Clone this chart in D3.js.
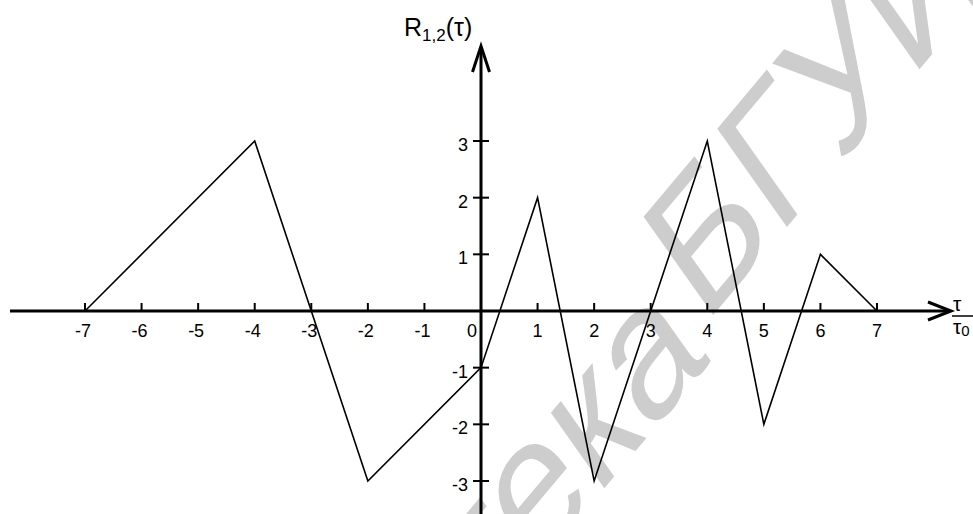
<!DOCTYPE html>
<html>
<head>
<meta charset="utf-8">
<script src="https://cdn.jsdelivr.net/npm/d3@7"></script>
<style>
  body { margin: 0; background: #fff; }
  svg { display: block; font-family: 'Liberation Sans', Arial, sans-serif; }
</style>
</head>
<body>
<svg id="chart" width="973" height="514"></svg>
<script>
// correlation function R1,2(tau), vertices of the piecewise-linear curve
const tauValues = [-7, -4, -2, 0, 1, 2, 4, 5, 6, 7];
const rValues = [0, 3, -3, -1, 2, -3, 3, -2, 1, 0];
const xTicks = [-7, -6, -5, -4, -3, -2, -1, 0, 1, 2, 3, 4, 5, 6, 7];
const yTicks = [-3, -2, -1, 1, 2, 3];
const watermarkWords = ['Библиотека', 'БГУИР'];

const svg = d3.select('#chart');

const x = d3.scaleLinear().domain([-7, 7]).range([85, 877]);
const y = d3.scaleLinear().domain([-3, 3]).range([481, 141]);

// watermark: sheared diagonal text, origin at the start of the second word
const wm = svg.append('g')
  .attr('fill', '#cdcdcd')
  .attr('font-size', 175)
  .attr('transform', 'matrix(0.643,-0.766,0.578,0.816,704,326)');
wm.append('text')
  .attr('x', -15).attr('y', 29)
  .attr('text-anchor', 'end')
  .text(watermarkWords[0]);
wm.append('text')
  .attr('x', 0).attr('y', 0)
  .text(watermarkWords[1]);

const x0 = x(0);
const y0 = y(0);

// axes
svg.append('line')
  .attr('x1', 10).attr('x2', 950)
  .attr('y1', y0).attr('y2', y0)
  .attr('stroke', '#000').attr('stroke-width', 3);

svg.append('line')
  .attr('x1', x0).attr('x2', x0)
  .attr('y1', 47).attr('y2', 514)
  .attr('stroke', '#000').attr('stroke-width', 3);

// arrow heads
svg.append('path')
  .attr('d', `M${x0 - 8.5},${72} L${x0},${46} L${x0 + 8.5},${72}`)
  .attr('fill', 'none').attr('stroke', '#000').attr('stroke-width', 3);

svg.append('path')
  .attr('d', `M${928},${y0 - 9} L${951},${y0} L${928},${y0 + 9}`)
  .attr('fill', 'none').attr('stroke', '#000').attr('stroke-width', 3);

// x ticks
svg.append('g')
  .selectAll('line')
  .data(xTicks.filter(d => d !== 0))
  .join('line')
  .attr('x1', d => x(d)).attr('x2', d => x(d))
  .attr('y1', y0 - 8).attr('y2', y0)
  .attr('stroke', '#000').attr('stroke-width', 2);

svg.append('g')
  .attr('font-size', 18)
  .attr('text-anchor', 'middle')
  .selectAll('text')
  .data(xTicks)
  .join('text')
  .attr('x', d => d === 0 ? x(d) - 9 : d < 0 ? x(d) - 2 : x(d))
  .attr('y', y0 + 26)
  .text(d => d);

// y ticks
svg.append('g')
  .selectAll('line')
  .data(yTicks)
  .join('line')
  .attr('x1', x0 - 8).attr('x2', x0 + 8)
  .attr('y1', d => y(d)).attr('y2', d => y(d))
  .attr('stroke', '#000').attr('stroke-width', 2);

svg.append('g')
  .attr('font-size', 18)
  .attr('text-anchor', 'end')
  .selectAll('text')
  .data(yTicks)
  .join('text')
  .attr('x', x0 - 13)
  .attr('y', d => y(d) + 10)
  .text(d => d);

// curve
const line = d3.line()
  .x(d => x(d[0]))
  .y(d => y(d[1]));

svg.append('path')
  .datum(d3.zip(tauValues, rValues))
  .attr('d', line)
  .attr('fill', 'none')
  .attr('stroke', '#000')
  .attr('stroke-width', 1.6)
  .attr('stroke-linejoin', 'miter');

// axis labels
const yLabel = svg.append('text')
  .attr('x', 404)
  .attr('y', 36)
  .attr('font-size', 25);
yLabel.append('tspan').text('R');
yLabel.append('tspan').attr('font-size', 17).attr('dy', 5).text('1,2');
yLabel.append('tspan').attr('dy', -5).text('(τ)');

svg.append('text')
  .attr('x', 953).attr('y', 311)
  .attr('font-size', 21)
  .text('τ');
svg.append('line')
  .attr('x1', 952).attr('x2', 980)
  .attr('y1', 316).attr('y2', 316)
  .attr('stroke', '#000').attr('stroke-width', 1.5);
const tau0 = svg.append('text')
  .attr('x', 953).attr('y', 334)
  .attr('font-size', 21);
tau0.append('tspan').text('τ');
tau0.append('tspan').attr('font-size', 15).attr('dy', 2).text('0');
</script>
</body>
</html>
